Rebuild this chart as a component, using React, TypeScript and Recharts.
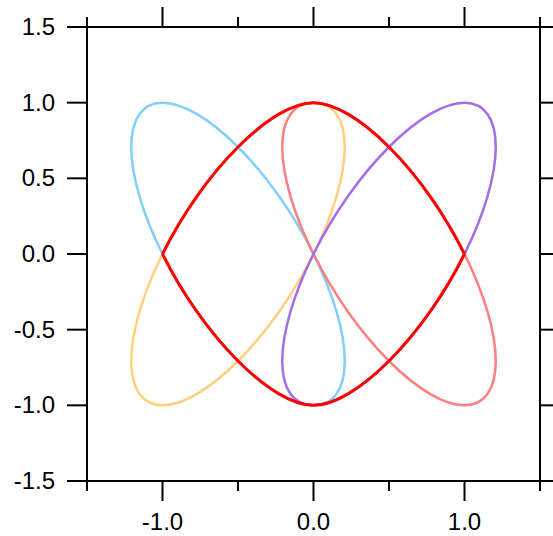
import { Line, LineChart, XAxis, YAxis } from 'recharts';

// axis ticks, every 0.5 from -1.5 to 1.5
const TICKS = [-1.5, -1, -0.5, 0, 0.5, 1, 1.5];

// loops (no closing point, the curve closes itself)
const blueLoop = [
  { x: 0.0, y: 0.0 }, { x: -0.229, y: 0.383 }, { x: -0.5, y: 0.707 }, { x: -0.771, y: 0.924 },
  { x: -1.0, y: 1.0 }, { x: -1.153, y: 0.924 }, { x: -1.207, y: 0.707 }, { x: -1.153, y: 0.383 },
  { x: -1.0, y: 0.0 }, { x: -0.771, y: -0.383 }, { x: -0.5, y: -0.707 }, { x: -0.229, y: -0.924 },
  { x: 0.0, y: -1.0 }, { x: 0.153, y: -0.924 }, { x: 0.207, y: -0.707 }, { x: 0.153, y: -0.383 },
];

const orangeLoop = [
  { x: 0.0, y: 0.0 }, { x: -0.229, y: -0.383 }, { x: -0.5, y: -0.707 }, { x: -0.771, y: -0.924 },
  { x: -1.0, y: -1.0 }, { x: -1.153, y: -0.924 }, { x: -1.207, y: -0.707 }, { x: -1.153, y: -0.383 },
  { x: -1.0, y: 0.0 }, { x: -0.771, y: 0.383 }, { x: -0.5, y: 0.707 }, { x: -0.229, y: 0.924 },
  { x: 0.0, y: 1.0 }, { x: 0.153, y: 0.924 }, { x: 0.207, y: 0.707 }, { x: 0.153, y: 0.383 },
];

const pinkLoop = [
  { x: 0.0, y: 0.0 }, { x: 0.229, y: -0.383 }, { x: 0.5, y: -0.707 }, { x: 0.771, y: -0.924 },
  { x: 1.0, y: -1.0 }, { x: 1.153, y: -0.924 }, { x: 1.207, y: -0.707 }, { x: 1.153, y: -0.383 },
  { x: 1.0, y: 0.0 }, { x: 0.771, y: 0.383 }, { x: 0.5, y: 0.707 }, { x: 0.229, y: 0.924 },
  { x: 0.0, y: 1.0 }, { x: -0.153, y: 0.924 }, { x: -0.207, y: 0.707 }, { x: -0.153, y: 0.383 },
];

const purpleLoop = [
  { x: 0.0, y: 0.0 }, { x: 0.229, y: 0.383 }, { x: 0.5, y: 0.707 }, { x: 0.771, y: 0.924 },
  { x: 1.0, y: 1.0 }, { x: 1.153, y: 0.924 }, { x: 1.207, y: 0.707 }, { x: 1.153, y: 0.383 },
  { x: 1.0, y: 0.0 }, { x: 0.771, y: -0.383 }, { x: 0.5, y: -0.707 }, { x: 0.229, y: -0.924 },
  { x: 0.0, y: -1.0 }, { x: -0.153, y: -0.924 }, { x: -0.207, y: -0.707 }, { x: -0.153, y: -0.383 },
];

// red lens: upper and lower arcs, corners at (-1, 0) and (1, 0).
// first and last points only steer the ends, they are not drawn.
const redTop = [
  { x: -1.153, y: -0.383 },
  { x: -1.0, y: 0.0 }, { x: -0.771, y: 0.383 }, { x: -0.5, y: 0.707 }, { x: -0.229, y: 0.924 },
  { x: 0.0, y: 1.0 }, { x: 0.229, y: 0.924 }, { x: 0.5, y: 0.707 }, { x: 0.771, y: 0.383 },
  { x: 1.0, y: 0.0 },
  { x: 1.153, y: -0.383 },
];

const redBottom = [
  { x: -1.153, y: 0.383 },
  { x: -1.0, y: 0.0 }, { x: -0.771, y: -0.383 }, { x: -0.5, y: -0.707 }, { x: -0.229, y: -0.924 },
  { x: 0.0, y: -1.0 }, { x: 0.229, y: -0.924 }, { x: 0.5, y: -0.707 }, { x: 0.771, y: -0.383 },
  { x: 1.0, y: 0.0 },
  { x: 1.153, y: 0.383 },
];

const FONT = '"Liberation Sans", Arial, Helvetica, sans-serif';
const AXIS = { stroke: '#000', strokeWidth: 2 };

type Pt = [number, number];

function segment(context: any, p0: Pt, p1: Pt, p2: Pt, p3: Pt) {
  context.bezierCurveTo(
    p1[0] + (p2[0] - p0[0]) / 6,
    p1[1] + (p2[1] - p0[1]) / 6,
    p2[0] - (p3[0] - p1[0]) / 6,
    p2[1] - (p3[1] - p1[1]) / 6,
    p2[0],
    p2[1],
  );
}

// closed catmull-rom, handed to <Line type> as a d3 curve factory
function closedLoop(context: any) {
  let pts: Pt[] = [];
  return {
    areaStart() {},
    areaEnd() {},
    lineStart() {
      pts = [];
    },
    point(x: number, y: number) {
      pts.push([x, y]);
    },
    lineEnd() {
      const n = pts.length;
      if (!n) return;
      context.moveTo(pts[0][0], pts[0][1]);
      for (let i = 0; i < n; i++) {
        segment(context, pts[(i - 1 + n) % n], pts[i], pts[(i + 1) % n], pts[(i + 2) % n]);
      }
      context.closePath();
    },
  };
}

// open catmull-rom, end points used as guides only
function guidedArc(context: any) {
  let pts: Pt[] = [];
  return {
    areaStart() {},
    areaEnd() {},
    lineStart() {
      pts = [];
    },
    point(x: number, y: number) {
      pts.push([x, y]);
    },
    lineEnd() {
      const n = pts.length;
      if (n < 4) return;
      context.moveTo(pts[1][0], pts[1][1]);
      for (let i = 1; i < n - 2; i++) {
        segment(context, pts[i - 1], pts[i], pts[i + 1], pts[i + 2]);
      }
    },
  };
}

const isMajor = (v: number) => Number.isInteger(v);

function BottomTick({ x, y, payload }: any) {
  const v = payload.value as number;
  return (
    <g>
      <line x1={x} x2={x} y1={y} y2={y + (isMajor(v) ? 20 : 10)} {...AXIS} />
      {isMajor(v) && (
        <text x={x} y={y + 49} textAnchor="middle" fontFamily={FONT} fontSize={24} fill="#000">
          {v.toFixed(1)}
        </text>
      )}
    </g>
  );
}

function TopTick({ x, y, payload }: any) {
  const v = payload.value as number;
  return <line x1={x} x2={x} y1={y} y2={y - (isMajor(v) ? 20 : 10)} {...AXIS} />;
}

function LeftTick({ x, y, payload }: any) {
  const v = payload.value as number;
  return (
    <g>
      <line x1={x - 20} x2={x} y1={y} y2={y} {...AXIS} />
      <text x={x - 32} y={y + 8} textAnchor="end" fontFamily={FONT} fontSize={24} fill="#000">
        {v.toFixed(1)}
      </text>
    </g>
  );
}

function RightTick({ x, y }: any) {
  return <line x1={x} x2={x + 20} y1={y} y2={y} {...AXIS} />;
}

const loops = [
  { key: 'orange', data: orangeLoop, color: '#FFD080' },
  { key: 'blue', data: blueLoop, color: '#80CFFF' },
  { key: 'pink', data: pinkLoop, color: '#FF8080' },
  { key: 'purple', data: purpleLoop, color: '#A36EE8' },
];

export default function App() {
  return (
    <div style={{ position: 'absolute', left: 0, top: 0, background: '#fff' }}>
      <LineChart width={553} height={536} margin={{ top: 0, right: 0, bottom: 0, left: 0 }}>
        <XAxis
          xAxisId="b"
          type="number"
          dataKey="x"
          orientation="bottom"
          domain={[-1.5, 1.5]}
          ticks={TICKS}
          interval={0}
          height={55}
          tickSize={0}
          tickMargin={0}
          tickLine={false}
          axisLine={AXIS}
          tick={<BottomTick />}
          allowDataOverflow
        />
        <XAxis
          xAxisId="t"
          type="number"
          dataKey="x"
          orientation="top"
          domain={[-1.5, 1.5]}
          ticks={TICKS}
          interval={0}
          height={27}
          tickSize={0}
          tickMargin={0}
          tickLine={false}
          axisLine={AXIS}
          tick={<TopTick />}
          allowDataOverflow
        />
        <YAxis
          yAxisId="l"
          type="number"
          orientation="left"
          domain={[-1.5, 1.5]}
          ticks={TICKS}
          interval={0}
          width={87}
          tickSize={0}
          tickMargin={0}
          tickLine={false}
          axisLine={AXIS}
          tick={<LeftTick />}
          allowDataOverflow
        />
        <YAxis
          yAxisId="r"
          type="number"
          orientation="right"
          domain={[-1.5, 1.5]}
          ticks={TICKS}
          interval={0}
          width={13}
          tickSize={0}
          tickMargin={0}
          tickLine={false}
          axisLine={AXIS}
          tick={<RightTick />}
          allowDataOverflow
        />
        {loops.map((l) => (
          <Line
            key={l.key}
            xAxisId="b"
            yAxisId="l"
            data={l.data}
            dataKey="y"
            type={closedLoop as any}
            stroke={l.color}
            strokeWidth={2.5}
            dot={false}
            activeDot={false}
            isAnimationActive={false}
          />
        ))}
        {[redTop, redBottom].map((d, i) => (
          <Line
            key={i}
            xAxisId="b"
            yAxisId="l"
            data={d}
            dataKey="y"
            type={guidedArc as any}
            stroke="#FF0000"
            strokeWidth={3}
            dot={false}
            activeDot={false}
            isAnimationActive={false}
          />
        ))}
      </LineChart>
    </div>
  );
}
